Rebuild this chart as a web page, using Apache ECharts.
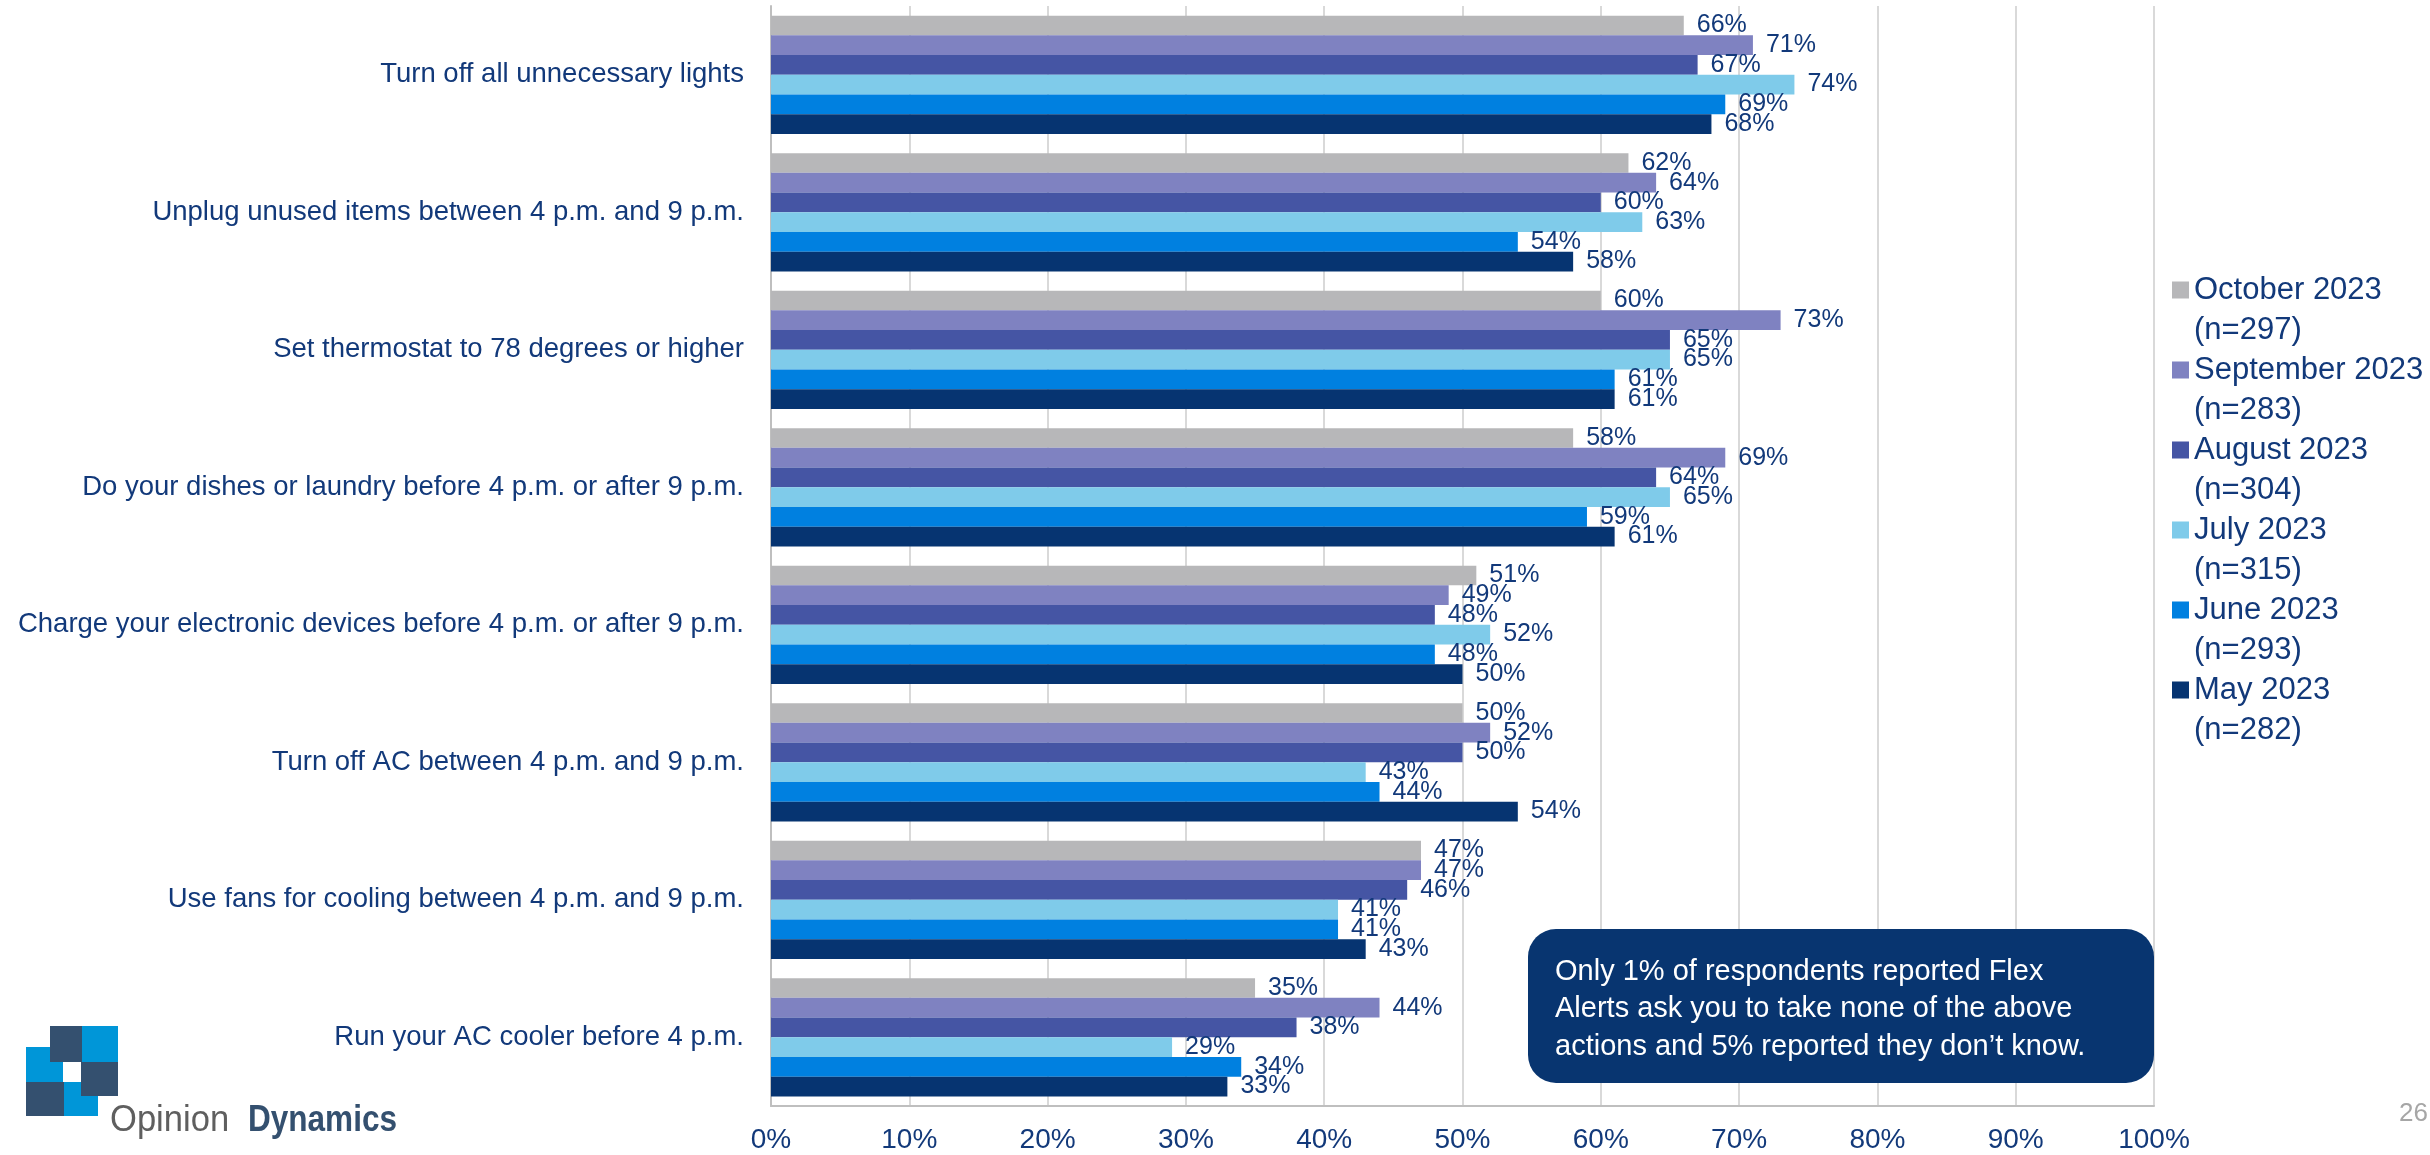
<!DOCTYPE html>
<html>
<head>
<meta charset="utf-8">
<script src="https://cdn.jsdelivr.net/npm/echarts@6/dist/echarts.min.js"></script>
<style>
  html, body { margin: 0; padding: 0; background: #ffffff; }
  #chart { width: 2430px; height: 1155px; }
</style>
</head>
<body>
<div id="chart"></div>
<script>
// ---- Data ----
const categories = [
  "Turn off all unnecessary lights",
  "Unplug unused items between 4 p.m. and 9 p.m.",
  "Set thermostat to 78 degrees or higher",
  "Do your dishes or laundry before 4 p.m. or after 9 p.m.",
  "Charge your electronic devices before 4 p.m. or after 9 p.m.",
  "Turn off AC between 4 p.m. and 9 p.m.",
  "Use fans for cooling between 4 p.m. and 9 p.m.",
  "Run your AC cooler before 4 p.m."
];
const seriesNames = [
  "October 2023\n(n=297)",
  "September 2023\n(n=283)",
  "August 2023\n(n=304)",
  "July 2023\n(n=315)",
  "June 2023\n(n=293)",
  "May 2023\n(n=282)"
];
const october2023   = [66, 62, 60, 58, 51, 50, 47, 35];
const september2023 = [71, 64, 73, 69, 49, 52, 47, 44];
const august2023    = [67, 60, 65, 64, 48, 50, 46, 38];
const july2023      = [74, 63, 65, 65, 52, 43, 41, 29];
const june2023      = [69, 54, 61, 59, 48, 44, 41, 34];
const may2023       = [68, 58, 61, 61, 50, 54, 43, 33];
const seriesValues = [october2023, september2023, august2023, july2023, june2023, may2023];
const seriesColors = ["#B7B7B9", "#7F82C1", "#4555A4", "#7FCBEA", "#0080E0", "#063471"];
const xTicks = [0, 10, 20, 30, 40, 50, 60, 70, 80, 90, 100];
const noteText = "Only 1% of respondents reported Flex\nAlerts ask you to take none of the above\nactions and 5% reported they don\u2019t know.";

const textColor = "#12397A";
const baseFont = "'Liberation Sans', Arial, sans-serif";

const chart = echarts.init(document.getElementById('chart'), null, { renderer: 'canvas' });

const series = seriesNames.map((name, i) => ({
  name: name,
  type: 'bar',
  data: seriesValues[i],
  itemStyle: { color: seriesColors[i] },
  barGap: '0%',
  barCategoryGap: '14%',
  label: {
    show: true,
    position: 'right',
    distance: 13,
    formatter: p => p.value + '%',
    color: textColor,
    fontFamily: baseFont,
    fontSize: 25
  }
}));

// legend icon: square at the top of a taller (invisible) box so it lines up with the first text line
const legendIcon = 'path://M0,0L17,0L17,17L0,17Z M0,56.99L0.01,56.99L0.01,57L0,57Z';

const option = {
  backgroundColor: '#ffffff',
  animation: false,
  grid: { left: 771, right: 276, top: 6, bottom: 49, containLabel: false },
  legend: {
    data: seriesNames,
    orient: 'vertical',
    left: 2172,
    top: 270,
    padding: 0,
    itemGap: 0,
    itemWidth: 17,
    itemHeight: 57,
    icon: legendIcon,
    textStyle: {
      color: textColor,
      fontFamily: baseFont,
      fontSize: 31,
      lineHeight: 40
    }
  },
  xAxis: {
    type: 'value',
    min: xTicks[0],
    max: xTicks[xTicks.length - 1],
    interval: xTicks[1] - xTicks[0],
    axisLine: { show: true, lineStyle: { color: '#BFBFBF', width: 2 } },
    axisTick: { show: false },
    splitLine: { show: true, lineStyle: { color: '#D9D9D9', width: 2 } },
    axisLabel: {
      formatter: '{value}%',
      color: textColor,
      fontFamily: baseFont,
      fontSize: 28,
      margin: 20
    }
  },
  yAxis: {
    type: 'category',
    data: categories,
    inverse: true,
    axisLine: { show: true, lineStyle: { color: '#BFBFBF', width: 2 } },
    axisTick: { show: false },
    splitLine: { show: false },
    axisLabel: {
      color: textColor,
      fontFamily: baseFont,
      fontSize: 27.5,
      margin: 27
    }
  },
  series: series,
  graphic: [
    // note box
    {
      type: 'group',
      z: 100,
      children: [
        { type: 'rect', z: 100, shape: { x: 1528, y: 929, width: 626, height: 154, r: 28 }, style: { fill: '#083570' } },
        { type: 'text', z: 101, x: 1555, y: 953, style: { text: noteText, fill: '#ffffff', font: "29px 'Liberation Sans', Arial, sans-serif", lineHeight: 37.5, textVerticalAlign: 'top' } }
      ]
    },
    // page number
    { type: 'text', x: 2428, y: 1114, style: { text: '26', fill: '#A6A6A6', font: "26px 'Liberation Sans', Arial, sans-serif", textAlign: 'right', textVerticalAlign: 'middle' } },
    // logo
    { type: 'rect', shape: { x: 26, y: 1047, width: 37, height: 35 }, style: { fill: '#0096D8' } },
    { type: 'rect', shape: { x: 50, y: 1026, width: 33, height: 36 }, style: { fill: '#34506F' } },
    { type: 'rect', shape: { x: 82, y: 1026, width: 36, height: 36 }, style: { fill: '#0096D8' } },
    { type: 'rect', shape: { x: 64, y: 1082, width: 34, height: 34 }, style: { fill: '#0096D8' } },
    { type: 'rect', shape: { x: 26, y: 1082, width: 38, height: 34 }, style: { fill: '#34506F' } },
    { type: 'rect', shape: { x: 81, y: 1062, width: 37, height: 34 }, style: { fill: '#34506F' } },
    { type: 'text', x: 110, y: 1121, scaleX: 0.96, style: { text: 'Opinion', fill: '#5F5F5F', font: "36px 'Liberation Sans', Arial, sans-serif", textVerticalAlign: 'middle' } },
    { type: 'text', x: 248, y: 1121, scaleX: 0.876, style: { text: 'Dynamics', fill: '#34506F', font: "bold 36px 'Liberation Sans', Arial, sans-serif", textVerticalAlign: 'middle' } }
  ]
};
chart.setOption(option);
</script>
</body>
</html>
